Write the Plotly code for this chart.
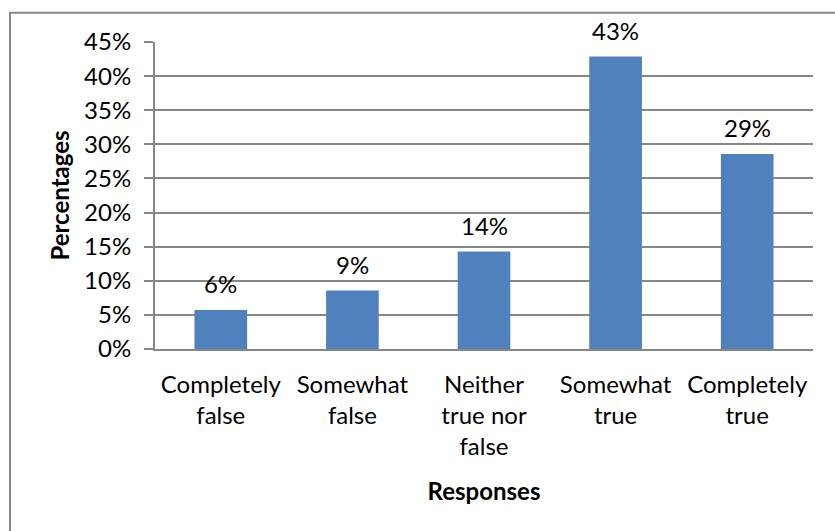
import plotly.graph_objects as go

categories = ["Completely<br>false", "Somewhat<br>false", "Neither<br>true nor<br>false",
              "Somewhat<br>true", "Completely<br>true"]
values = [0.0571, 0.0857, 0.1429, 0.4286, 0.2857]
labels = ["6%", "9%", "14%", "43%", "29%"]
y_ticks = [0, 0.05, 0.10, 0.15, 0.20, 0.25, 0.30, 0.35, 0.40, 0.45]

FONT = "Lato"
FS = 24
GRID = "#878787"

W, H = 835, 531
L, R, T, B = 155, 22, 42, 182
pw, ph = W - L - R, H - T - B

fig = go.Figure(go.Bar(
    x=categories, y=values,
    marker=dict(color="#4F81BD", line=dict(width=0)),
    cliponaxis=False,
))

for c, v, t in zip(categories, values, labels):
    fig.add_annotation(x=c, y=v, text=t, showarrow=False, yanchor="bottom",
                       yshift=10, font=dict(family=FONT, size=FS, color="black"))

def px2paper_x(px):
    return (px - L) / pw

def px2paper_y(py):
    return (H - B - py) / ph

fig.update_layout(
    width=W, height=H,
    margin=dict(l=L, r=R, t=T, b=B, autoexpand=False),
    paper_bgcolor="white", plot_bgcolor="white",
    bargap=0.6,
    showlegend=False,
    font=dict(family=FONT, size=FS, color="black"),
    xaxis=dict(
        showgrid=False, showline=True, linecolor=GRID, linewidth=2,
        ticks="", ticklabelstandoff=13,
        tickfont=dict(family=FONT, size=FS),
        title=dict(text="<b>Responses</b>", font=dict(family=FONT, size=FS), standoff=24),
    ),
    yaxis=dict(
        range=[0, 0.45], tickvals=y_ticks, tickformat=".0%",
        showgrid=True, gridcolor=GRID, gridwidth=2,
        showline=True, linecolor=GRID, linewidth=2,
        ticks="outside", ticklen=9, tickcolor=GRID, tickwidth=2,
        ticklabelstandoff=8,
        tickfont=dict(family=FONT, size=FS),
        title=dict(text="<b>Percentages</b>", font=dict(family=FONT, size=FS), standoff=8),
        zeroline=False,
    ),
    shapes=[dict(
        type="rect", xref="paper", yref="paper",
        x0=px2paper_x(10), x1=px2paper_x(845),
        y0=px2paper_y(545), y1=px2paper_y(12.7),
        line=dict(color=GRID, width=2), fillcolor="rgba(0,0,0,0)", layer="below",
    )],
)

fig.write_html("out.html")
